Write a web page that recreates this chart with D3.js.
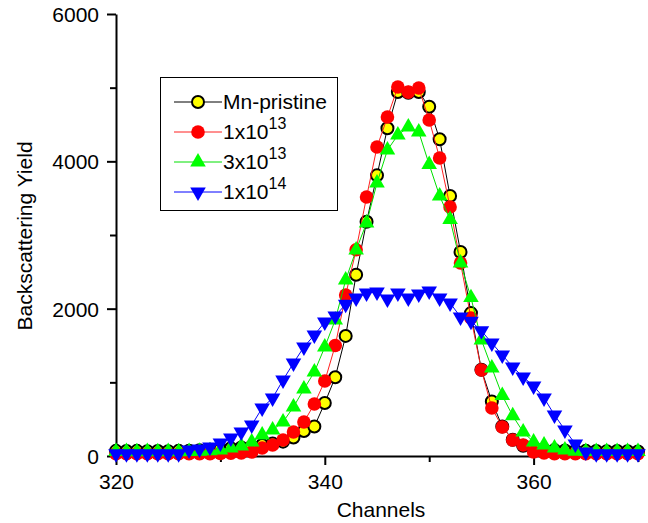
<!DOCTYPE html>
<html>
<head>
<meta charset="utf-8">
<script src="https://cdn.jsdelivr.net/npm/d3@7"></script>
<style>
  body { margin: 0; background: #fff; }
  text { font-family: "Liberation Sans", Arial, sans-serif; fill: #000; }
</style>
</head>
<body>
<svg width="648" height="523"></svg>
<script>
var width = 648;
var height = 523;

// channels 320..370
var channels = [320, 321, 322, 323, 324, 325, 326, 327, 328, 329,
    330, 331, 332, 333, 334, 335, 336, 337, 338, 339,
    340, 341, 342, 343, 344, 345, 346, 347, 348, 349,
    350, 351, 352, 353, 354, 355, 356, 357, 358, 359,
    360, 361, 362, 363, 364, 365, 366, 367, 368, 369, 370];

var pristine = [70, 68, 70, 66, 68, 66, 70, 72, 78, 85,
    95, 105, 115, 130, 150, 170, 195, 250, 340, 400,
    720, 1070, 1630, 2460, 3180, 3810, 4450, 4940, 4930, 4940,
    4740, 4300, 3530, 2770, 1940, 1170, 740, 400, 220, 140,
    100, 85, 80, 75, 72, 70, 68, 66, 68, 65, 62];

var dose1e13 = [30, 30, 30, 30, 30, 30, 30, 30, 30, 32,
    35, 38, 42, 54, 109, 150, 217, 326, 462, 706,
    1018, 1500, 2185, 2800, 3516, 4194, 4602, 5009, 4940, 4995,
    4561, 4045, 3380, 2620, 1873, 1167, 652, 394, 217, 150,
    54, 40, 32, 30, 30, 30, 30, 30, 30, 30, 30];

var dose3e13 = [60, 60, 58, 60, 58, 60, 58, 62, 65, 70,
    80, 109, 136, 190, 285, 353, 462, 665, 909, 1140,
    1480, 1846, 2389, 2796, 3163, 3706, 4154, 4357, 4466, 4398,
    3957, 3529, 3210, 2620, 2150, 1575, 1195, 820, 545, 326,
    190, 150, 109, 81, 65, 60, 60, 60, 60, 60, 60];

var dose1e14 = [30, 30, 30, 30, 30, 30, 30, 81, 95, 122,
    176, 244, 326, 420, 651, 787, 1032, 1262, 1480, 1642,
    1819, 1900, 2060, 2145, 2212, 2226, 2131, 2212, 2145, 2199,
    2240, 2145, 2077, 1887, 1830, 1700, 1534, 1371, 1208, 1072,
    950, 787, 557, 353, 163, 54, 30, 30, 30, 30, 30];

var seriesNames = ["Mn-pristine", "1x10", "3x10", "1x10"];
var seriesSup = ["", "13", "13", "14"];

var xMajor = [320, 340, 360];
var xMinor = [330, 350, 370];
var yMajor = [0, 2000, 4000, 6000];
var yMinor = [1000, 3000, 5000];

var svg = d3.select('svg')
    .attr('width', width)
    .attr('height', height);

var x = d3.scaleLinear().domain([320, 370]).range([116, 638]);
var y = d3.scaleLinear().domain([0, 6000]).range([456, 14]);

// axes
var gx = svg.append('g').attr('transform', 'translate(0,' + y(0) + ')');
gx.call(d3.axisBottom(x).tickValues(xMajor).tickSize(9).tickSizeOuter(0).tickFormat(d3.format('d')));
gx.append('g').call(d3.axisBottom(x).tickValues(xMinor).tickSize(6).tickSizeOuter(0).tickFormat(''))
    .select('.domain').remove();

var gy = svg.append('g').attr('transform', 'translate(' + x(320) + ',0)');
gy.call(d3.axisLeft(y).tickValues(yMajor).tickSize(9).tickSizeOuter(0).tickFormat(d3.format('d')));
gy.append('g').call(d3.axisLeft(y).tickValues(yMinor).tickSize(6).tickSizeOuter(0).tickFormat(''))
    .select('.domain').remove();

svg.selectAll('.domain, .tick line').attr('stroke', '#000').attr('stroke-width', 2);
svg.selectAll('.tick text')
    .style('font-family', '"Liberation Sans", Arial, sans-serif')
    .style('font-size', '21px')
    .attr('fill', '#000');
gx.selectAll('.tick text').attr('dy', '1.0em');
gy.selectAll('.tick text').attr('x', -17).attr('dy', '0.36em');

svg.append('text')
    .attr('x', x(345) + 4)
    .attr('y', 517)
    .attr('text-anchor', 'middle')
    .style('font-size', '21px')
    .text('Channels');

svg.append('text')
    .attr('transform', 'translate(32,236) rotate(-90)')
    .attr('text-anchor', 'middle')
    .style('font-size', '21px')
    .text('Backscattering Yield');

// series
var series = [
    { values: pristine, line: '#000', kind: 'circle' },
    { values: dose1e13, line: '#ff2020', kind: 'dot' },
    { values: dose3e13, line: '#00e000', kind: 'up' },
    { values: dose1e14, line: '#0000ff', kind: 'down' }
];

var line = d3.line()
    .x(function (d) { return x(d[0]); })
    .y(function (d) { return y(d[1]); });

var triUp = d3.symbol().type(d3.symbolTriangle).size(105);

function drawMarker(g, kind) {
    if (kind === 'circle') {
        g.append('circle').attr('r', 6).attr('fill', '#ffff00')
            .attr('stroke', '#000').attr('stroke-width', 2);
    } else if (kind === 'dot') {
        g.append('circle').attr('r', 6.8).attr('fill', '#ff0000');
    } else if (kind === 'up') {
        g.append('path').attr('d', triUp()).attr('fill', '#00ff00');
    } else {
        g.append('path').attr('d', triUp()).attr('transform', 'rotate(180)').attr('fill', '#0000ff');
    }
}

series.forEach(function (s) {
    var pts = channels.map(function (c, i) { return [c, s.values[i]]; });
    svg.append('path')
        .datum(pts)
        .attr('d', line)
        .attr('fill', 'none')
        .attr('stroke', s.line)
        .attr('stroke-width', 1);
    svg.append('g').selectAll('g')
        .data(pts)
        .enter()
        .append('g')
        .attr('transform', function (d) { return 'translate(' + x(d[0]) + ',' + y(d[1]) + ')'; })
        .each(function () { drawMarker(d3.select(this), s.kind); });
});

// legend
var legend = svg.append('g');
legend.append('rect')
    .attr('x', 160.5).attr('y', 77.5)
    .attr('width', 177).attr('height', 133)
    .attr('fill', '#fff')
    .attr('stroke', '#000')
    .attr('stroke-width', 1);

series.forEach(function (s, i) {
    var ly = 102 + i * 30;
    var row = legend.append('g');
    row.append('line')
        .attr('x1', 174).attr('x2', 222)
        .attr('y1', ly).attr('y2', ly)
        .attr('stroke', s.line).attr('stroke-width', 1);
    var m = row.append('g').attr('transform', 'translate(198,' + ly + ')');
    drawMarker(m, s.kind);
    var t = row.append('text')
        .attr('x', 223)
        .attr('y', ly + 7)
        .style('font-size', '21px')
        .text(seriesNames[i]);
    if (seriesSup[i]) {
        t.append('tspan')
            .attr('dy', -10)
            .style('font-size', '16px')
            .text(seriesSup[i]);
    }
});
</script>
</body>
</html>
